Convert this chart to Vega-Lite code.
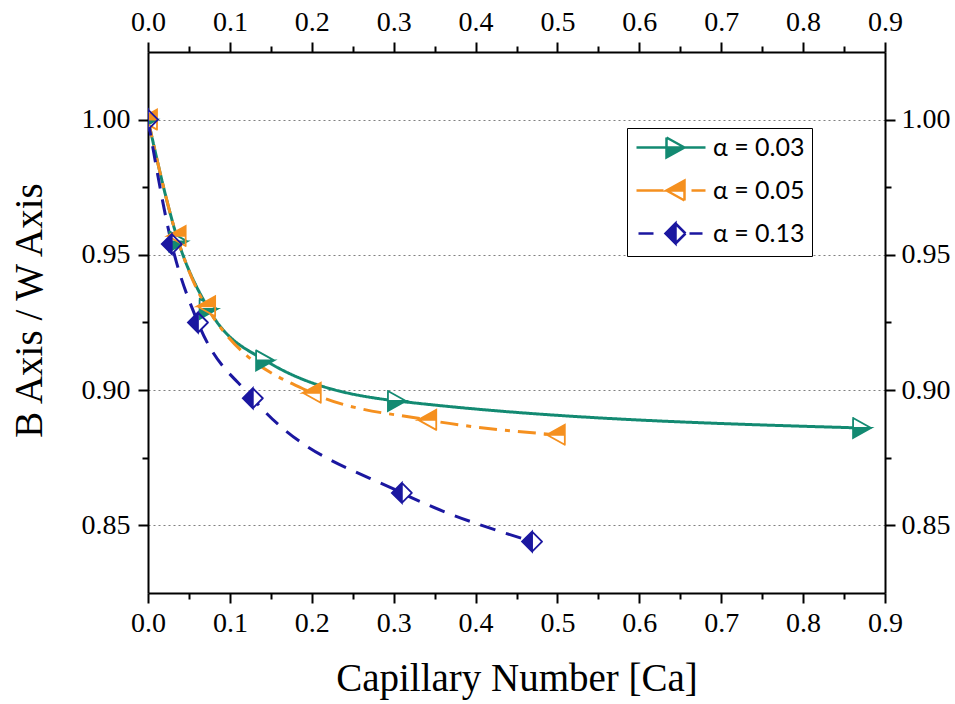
{
  "$schema": "https://vega.github.io/schema/vega-lite/v6.json",
  "width": 737,
  "height": 541,
  "autosize": "none",
  "padding": {"left": 148, "top": 52, "right": 70, "bottom": 111},
  "background": "white",
  "config": {
    "font": "Liberation Serif",
    "view": {"stroke": null},
    "axis": {
      "domainColor": "black", "domainWidth": 2,
      "tickColor": "black", "tickWidth": 2,
      "labelColor": "black", "labelFont": "Liberation Serif", "labelFontSize": 28,
      "titleFont": "Liberation Serif", "titleFontSize": 39, "titleFontWeight": "normal", "titleColor": "black",
      "labelFlush": false, "labelOverlap": false, "grid": false
    }
  },
  "data": {"values": [
    {"series": "α = 0.03", "ca": 0.0, "ratio": 1.0},
    {"series": "α = 0.03", "ca": 0.037, "ratio": 0.955},
    {"series": "α = 0.03", "ca": 0.074, "ratio": 0.930},
    {"series": "α = 0.03", "ca": 0.143, "ratio": 0.911},
    {"series": "α = 0.03", "ca": 0.304, "ratio": 0.896},
    {"series": "α = 0.03", "ca": 0.872, "ratio": 0.886},
    {"series": "α = 0.05", "ca": 0.0, "ratio": 1.0},
    {"series": "α = 0.05", "ca": 0.035, "ratio": 0.957},
    {"series": "α = 0.05", "ca": 0.071, "ratio": 0.931},
    {"series": "α = 0.05", "ca": 0.200, "ratio": 0.899},
    {"series": "α = 0.05", "ca": 0.341, "ratio": 0.889},
    {"series": "α = 0.05", "ca": 0.498, "ratio": 0.8835},
    {"series": "α = 0.13", "ca": 0.0, "ratio": 1.0},
    {"series": "α = 0.13", "ca": 0.029, "ratio": 0.954},
    {"series": "α = 0.13", "ca": 0.061, "ratio": 0.925},
    {"series": "α = 0.13", "ca": 0.128, "ratio": 0.897},
    {"series": "α = 0.13", "ca": 0.310, "ratio": 0.862},
    {"series": "α = 0.13", "ca": 0.469, "ratio": 0.844}
  ]},
  "resolve": {
    "scale": {"shape": "independent"},
    "legend": {"color": "independent", "shape": "independent", "fill": "independent", "stroke": "independent", "strokeDash": "independent"},
    "axis": {"x": "independent", "y": "independent"}
  },
  "layer": [
    {
      "mark": {"type": "line", "interpolate": "monotone", "strokeWidth": 3, "clip": true},
      "encoding": {
        "x": {"field": "ca", "type": "quantitative",
          "scale": {"domain": [0, 0.9], "nice": false, "zero": false},
          "axis": {"orient": "bottom",
            "values": [0, 0.05, 0.1, 0.15, 0.2, 0.25, 0.3, 0.35, 0.4, 0.45, 0.5, 0.55, 0.6, 0.65, 0.7, 0.75, 0.8, 0.85, 0.9],
            "labelExpr": "abs(datum.value*10 - round(datum.value*10)) < 0.001 ? format(datum.value, '.1f') : ''",
            "tickSize": {"condition": {"test": "abs(datum.value*10 - round(datum.value*10)) < 0.001", "value": 10}, "value": 6},
            "labelFont": "Liberation Serif", "labelFontSize": 28, "labelColor": "black",
            "encode": {"labels": {"update": {"font": {"value": "Liberation Serif"}}}},
            "labelPadding": 6, "title": "Capillary Number [Ca]", "titlePadding": 22,
            "titleFont": "Liberation Serif", "titleFontSize": 39, "titleFontWeight": "normal"}},
        "y": {"field": "ratio", "type": "quantitative",
          "scale": {"domain": [0.825, 1.025], "nice": false, "zero": false},
          "axis": {"orient": "left",
            "values": [0.85, 0.875, 0.9, 0.925, 0.95, 0.975, 1.0],
            "labelExpr": "abs(datum.value*20 - round(datum.value*20)) < 0.001 ? format(datum.value, '.2f') : ''",
            "tickSize": {"condition": {"test": "abs(datum.value*20 - round(datum.value*20)) < 0.001", "value": 10}, "value": 6},
            "grid": true,
            "gridOpacity": {"condition": {"test": "abs(datum.value*20 - round(datum.value*20)) < 0.001", "value": 1}, "value": 0},
            "gridDash": [2, 3], "gridColor": "#808080", "gridWidth": 1.2,
            "labelFont": "Liberation Serif", "labelFontSize": 28, "labelColor": "black",
            "encode": {"labels": {"update": {"font": {"value": "Liberation Serif"}}}},
            "labelPadding": 8, "title": "B Axis / W Axis", "titlePadding": 32, "titleY": 258,
            "titleFont": "Liberation Serif", "titleFontSize": 39, "titleFontWeight": "normal"}},
        "color": {"field": "series", "type": "nominal",
          "scale": {"domain": ["α = 0.03", "α = 0.05", "α = 0.13"], "range": ["#138a72", "#f5901f", "#1b17a0"]},
          "legend": null},
        "strokeDash": {"field": "series", "type": "nominal",
          "scale": {"domain": ["α = 0.03", "α = 0.05", "α = 0.13"], "range": [[1, 0], [18, 8, 5, 8], [16, 11]]},
          "legend": null}
      }
    },
    {
      "mark": {"type": "point", "filled": true, "fill": "white", "fillOpacity": 1, "opacity": 1, "size": 400, "strokeWidth": 0, "clip": true},
      "encoding": {
        "x": {"field": "ca", "type": "quantitative",
          "scale": {"domain": [0, 0.9], "nice": false, "zero": false},
          "axis": {"orient": "top",
            "values": [0, 0.05, 0.1, 0.15, 0.2, 0.25, 0.3, 0.35, 0.4, 0.45, 0.5, 0.55, 0.6, 0.65, 0.7, 0.75, 0.8, 0.85, 0.9],
            "labelExpr": "abs(datum.value*10 - round(datum.value*10)) < 0.001 ? format(datum.value, '.1f') : ''",
            "tickSize": {"condition": {"test": "abs(datum.value*10 - round(datum.value*10)) < 0.001", "value": 10}, "value": 6},
            "labelFont": "Liberation Serif", "labelFontSize": 28, "labelColor": "black",
            "encode": {"labels": {"update": {"font": {"value": "Liberation Serif"}}}},
            "labelPadding": 6, "title": null}},
        "y": {"field": "ratio", "type": "quantitative",
          "scale": {"domain": [0.825, 1.025], "nice": false, "zero": false},
          "axis": {"orient": "right",
            "values": [0.85, 0.875, 0.9, 0.925, 0.95, 0.975, 1.0],
            "labelExpr": "abs(datum.value*20 - round(datum.value*20)) < 0.001 ? format(datum.value, '.2f') : ''",
            "tickSize": {"condition": {"test": "abs(datum.value*20 - round(datum.value*20)) < 0.001", "value": 10}, "value": 6},
            "labelFont": "Liberation Serif", "labelFontSize": 28, "labelColor": "black",
            "encode": {"labels": {"update": {"font": {"value": "Liberation Serif"}}}},
            "labelPadding": 6, "title": null}},
        "shape": {"field": "series", "type": "nominal",
          "scale": {"domain": ["α = 0.03", "α = 0.05", "α = 0.13"],
            "range": ["M-0.9,-1L0.9,0L-0.9,1Z", "M0.9,-1L-0.9,0L0.9,1Z", "M0,-1L1,0L0,1L-1,0Z"]},
          "legend": null}
      }
    },
    {
      "mark": {"type": "point", "filled": true, "opacity": 1, "fillOpacity": 1, "size": 400, "strokeWidth": 1.8, "strokeCap": "round", "strokeJoin": "miter", "clip": true},
      "encoding": {
        "x": {"field": "ca", "type": "quantitative", "scale": {"domain": [0, 0.9], "nice": false, "zero": false}, "axis": null},
        "y": {"field": "ratio", "type": "quantitative", "scale": {"domain": [0.825, 1.025], "nice": false, "zero": false}, "axis": null},
        "fill": {"field": "series", "type": "nominal",
          "scale": {"domain": ["α = 0.03", "α = 0.05", "α = 0.13"], "range": ["#138a72", "#f5901f", "#1b17a0"]},
          "legend": null},
        "stroke": {"field": "series", "type": "nominal",
          "scale": {"domain": ["α = 0.03", "α = 0.05", "α = 0.13"], "range": ["#138a72", "#f5901f", "#1b17a0"]},
          "legend": null},
        "shape": {"field": "series", "type": "nominal",
          "scale": {"domain": ["α = 0.03", "α = 0.05", "α = 0.13"],
            "range": [
              "M-0.9,0L0.9,0L-0.9,1Z M-0.9,0L-0.9,-1 M-0.9,-1L0.9,0",
              "M0.9,-1L-0.9,0L0.9,0Z M-0.9,0L0.9,1 M0.9,1L0.9,0",
              "M0,-1L-1,0L0,1Z M0,-1L1,0 M1,0L0,1"]},
          "legend": null}
      }
    },
    {
      "mark": {"type": "point", "filled": true, "opacity": 0, "size": 400},
      "encoding": {
        "x": {"field": "ca", "type": "quantitative", "scale": {"domain": [0, 0.9], "nice": false, "zero": false}, "axis": null},
        "y": {"field": "ratio", "type": "quantitative", "scale": {"domain": [0.825, 1.025], "nice": false, "zero": false}, "axis": null},
        "color": {"field": "series", "type": "nominal",
          "scale": {"domain": ["α = 0.03", "α = 0.05", "α = 0.13"], "range": ["#138a72", "#f5901f", "#1b17a0"]},
          "legend": {"orient": "none", "legendX": 479, "legendY": 76, "title": null,
            "symbolSize": 400, "symbolStrokeWidth": 2, "symbolOpacity": 1,
            "labelFont": "Lato", "labelFontSize": 25, "labelColor": "black", "labelOffset": 54, "labelLimit": 300,
            "padding": 7, "strokeColor": "black", "fillColor": "white", "rowPadding": 12,
            "encode": {"symbols": {"update": {
              "fill": {"scale": "color", "field": "value"},
              "stroke": {"scale": "color", "field": "value"},
              "opacity": {"value": 1}, "strokeWidth": {"value": 2.5}}}}}},
        "shape": {"field": "series", "type": "nominal",
          "scale": {"domain": ["α = 0.03", "α = 0.05", "α = 0.13"],
            "range": [
              "M-1,0L2.0,0 M3.8,0L5.9,0 M2.0,0L3.8,0L2.0,1Z M2.0,0L2.0,-1 M2.0,-1L3.8,0",
              "M-1,0L1.7,0 M4.5,0L5.9,0 M3.8,-1L2.0,0L3.8,0Z M2.0,0L3.8,1 M3.8,1L3.8,0",
              "M-0.8,0L0.7,0 M4.3,0L5.6,0 M2.9,-1L1.9,0L2.9,1Z M2.9,-1L3.9,0 M3.9,0L2.9,1"]},
          "legend": {"orient": "none", "legendX": 479, "legendY": 76, "title": null,
            "symbolSize": 400, "symbolStrokeWidth": 2, "symbolOpacity": 1,
            "labelFont": "Lato", "labelFontSize": 25, "labelColor": "black", "labelOffset": 54, "labelLimit": 300,
            "padding": 7, "strokeColor": "black", "fillColor": "white", "rowPadding": 12,
            "encode": {"symbols": {"update": {
              "fill": {"scale": "color", "field": "value"},
              "stroke": {"scale": "color", "field": "value"},
              "opacity": {"value": 1}, "strokeWidth": {"value": 2.5}}}}}}
      }
    }
  ]
}
